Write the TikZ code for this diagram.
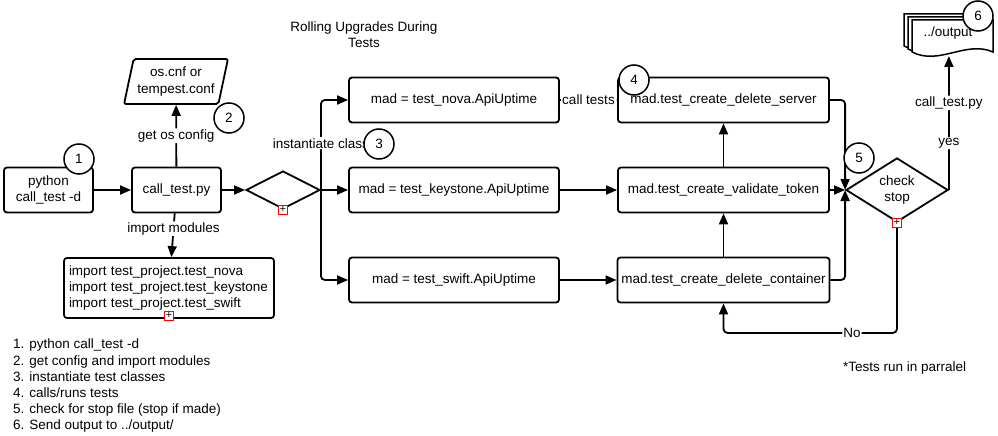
\documentclass[tikz,border=0pt]{standalone}
\usepackage{fontspec}
\setmainfont{Liberation Sans}
\usetikzlibrary{shapes.geometric,arrows.meta,calc}

\begin{document}
\begin{tikzpicture}[x=1pt,y=-1pt]

\tikzstyle{block} = [draw=black, line width=1.8pt, rounded corners=3pt,
    minimum height=45, inner sep=4, align=center,
    font=\fontsize{13.5}{16.2}\selectfont]
\tikzstyle{decision} = [draw=black, line width=1.8pt, diamond, inner sep=0,
    align=center, font=\fontsize{13.5}{16.2}\selectfont]
\tikzstyle{num} = [draw=black, line width=1.5pt, circle, fill=white,
    minimum size=30, inner sep=0, font=\fontsize{13.5}{16.2}\selectfont]
\tikzstyle{plusbox} = [draw=red, line width=0.9pt, fill=white, inner sep=0,
    minimum size=9.5, font=\fontsize{10.5}{10}\selectfont]
\tikzstyle{conn} = [line width=1.8pt, rounded corners=4pt,
    -{Triangle[length=11pt,width=9pt]}]
\tikzstyle{lbl} = [fill=white, inner sep=1, font=\fontsize{13.5}{16.2}\selectfont]
\tikzstyle{txt} = [inner sep=0, align=left, font=\fontsize{13.5}{16.2}\selectfont]

\useasboundingbox (0,0) rectangle (998,436);

\node[txt, align=center] (title) at (364,34.5) {Rolling Upgrades During\\Tests};

% =========================
% start, config and imports
% =========================
\node[block, minimum width=89] (python) at (48.5,190) {python\\call\_test -d};
\node[block, minimum width=89] (call) at (176.5,190) {call\_test.py};
\node[draw, line width=1.8pt, trapezium, trapezium left angle=75,
    trapezium right angle=105, trapezium stretches=true, minimum width=104,
    minimum height=45, rounded corners=2pt, align=center,
    font=\fontsize{13.5}{16.2}\selectfont] (conf) at (176,81.5) {os.cnf or\\tempest.conf};
\node[block, minimum width=210, minimum height=60, text width=200, align=left]
    (imports) at (169,288) {import test\_project.test\_nova\\import test\_project.test\_keystone\\import test\_project.test\_swift\\[-4pt]};
\node[decision, minimum width=74, minimum height=38] (split) at (283,190) {};

% =========================
% test classes and test calls
% =========================
\node[block, minimum width=210] (nova) at (454,100) {mad = test\_nova.ApiUptime};
\node[block, minimum width=210] (keystone) at (454,190) {mad = test\_keystone.ApiUptime};
\node[block, minimum width=210] (swift) at (454,280) {mad = test\_swift.ApiUptime};

\node[block, minimum width=211] (server) at (723.5,100) {mad.test\_create\_delete\_server};
\node[block, minimum width=211] (validate) at (723.5,190) {mad.test\_create\_validate\_token};
\node[block, minimum width=211] (container) at (723.5,280) {mad.test\_create\_delete\_container};

\node[decision, minimum width=102, minimum height=64] (check) at (897,190) {check\\stop};

% output documents
\foreach \d in {8,4,0} {
  \draw[line width=1.5pt, fill=white] (912-\d,52-0.75*\d) -- (912-\d,20-0.75*\d)
    -- (993-\d,20-0.75*\d) -- (993-\d,52-0.75*\d)
    .. controls (966-\d,40-0.75*\d) and (939-\d,66-0.75*\d) .. (912-\d,52-0.75*\d) -- cycle;
}
\node[txt] (out) at (948,33) {../output};
\coordinate (outbot) at (949,56);

% =========================
% connectors
% =========================
\draw[conn] (python) -- (call);
\draw[conn] (call) -- node[lbl] {get os config} (conf);
\draw[conn] (call) -- node[lbl, pos=0.35] {import modules} (imports);
\draw[conn] (call) -- (split);
\draw[conn] (split.east) |- node[lbl, pos=0.26] {instantiate class} (nova.west);
\draw[conn] (split.east) -- (keystone.west);
\draw[conn] (split.east) |- (swift.west);

\draw[conn] (nova) -- node[lbl] {call tests} (server);
\draw[conn] (keystone) -- (validate);
\draw[conn] (swift) -- (container);
\draw[conn] (validate) -- (server);
\draw[conn] (container) -- (validate);

\draw[conn] (server.east) -| (check.west);
\draw[conn] (validate.east) -- (check.west);
\draw[conn] (container.east) -| (check.west);

\draw[conn] (check.south) -- ++(0,110) -| node[lbl, pos=0.13] {No} (container.south);
\draw[conn] (check.east) -- node[lbl, pos=0.35] {yes} node[lbl, pos=0.65] {call\_test.py} (check.east |- outbot);

% plus marks
\node[plusbox] (p1) at (split.south) {+};
\node[plusbox] (p2) at ($(imports.south)+(0,-3)$) {+};
\node[plusbox] (p3) at (check.south) {+};

% step numbers
\node[num] (n1) at (79,159) {1};
\node[num] (n2) at (229,118) {2};
\node[num] (n3) at (379,144) {3};
\node[num] (n4) at (634,80) {4};
\node[num] (n5) at (859,158) {5};
\node[num] (n6) at (978,16) {6};

\node[txt, anchor=north west] (steps) at (13,339) {1. python call\_test -d\\2. get config and import modules\\3. instantiate test classes\\4. calls/runs tests\\5. check for stop file (stop if made)\\6. Send output to ../output/};
\node[txt, anchor=west] (note) at (843,368) {*Tests run in parralel};

\end{tikzpicture}
\end{document}
